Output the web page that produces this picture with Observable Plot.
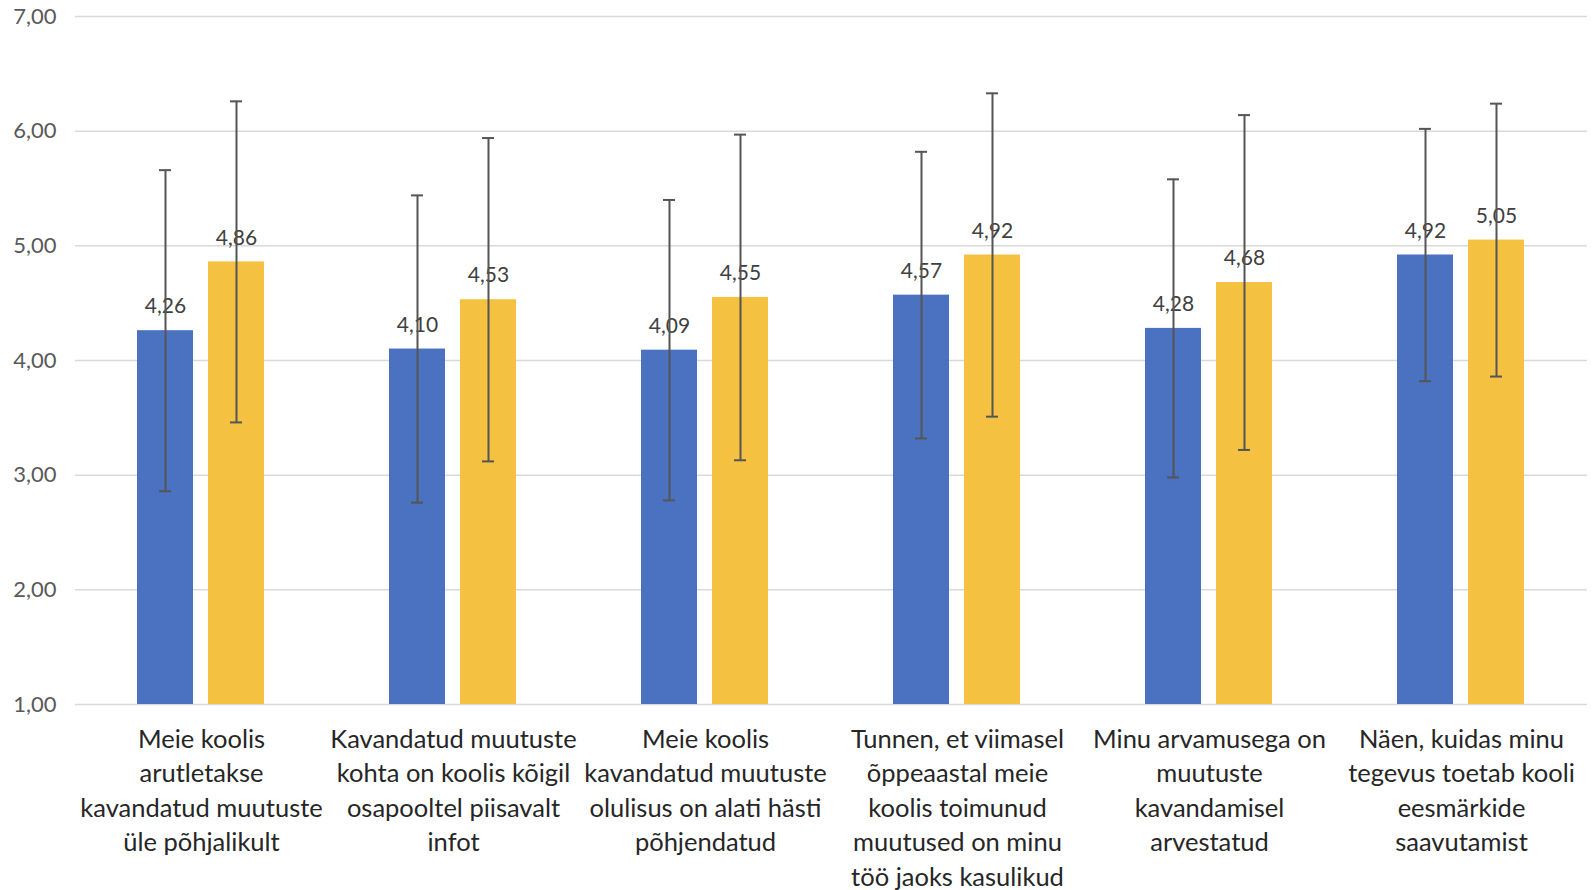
<!DOCTYPE html>
<html><head><meta charset="utf-8">
<script src="https://cdn.jsdelivr.net/npm/d3@7"></script>
<script src="https://cdn.jsdelivr.net/npm/@observablehq/plot@0.6"></script>
<style>body{margin:0;background:#fff;overflow:hidden}</style>
</head><body><div id="chart"></div>
<script>
const categories = [
  "Meie koolis\narutletakse\nkavandatud muutuste\nüle põhjalikult",
  "Kavandatud muutuste\nkohta on koolis kõigil\nosapooltel piisavalt\ninfot",
  "Meie koolis\nkavandatud muutuste\nolulisus on alati hästi\npõhjendatud",
  "Tunnen, et viimasel\nõppeaastal meie\nkoolis toimunud\nmuutused on minu\ntöö jaoks kasulikud",
  "Minu arvamusega on\nmuutuste\nkavandamisel\narvestatud",
  "Näen, kuidas minu\ntegevus toetab kooli\neesmärkide\nsaavutamist"
];
const series = ["Seeria 1", "Seeria 2"];
const meansBlue = [4.26, 4.10, 4.09, 4.57, 4.28, 4.92];
const meansYellow = [4.86, 4.53, 4.55, 4.92, 4.68, 5.05];
const sdBlue = [1.40, 1.34, 1.31, 1.25, 1.30, 1.10];
const sdYellow = [1.40, 1.41, 1.42, 1.41, 1.46, 1.19];
const yTicks = [1, 2, 3, 4, 5, 6, 7];
const colors = ["#4a72c0", "#f4c141"];

const data = categories.flatMap((c, i) => [
  {cat: c, series: series[0], mean: meansBlue[i], sd: sdBlue[i]},
  {cat: c, series: series[1], mean: meansYellow[i], sd: sdYellow[i]}
]);
const fmt = v => v.toFixed(2).replace(".", ",");
const errColor = "#555555";

const chart = Plot.plot({
  width: 1593, height: 890,
  marginTop: 16, marginBottom: 186, marginLeft: 75, marginRight: 6,
  style: {fontFamily: "Lato, sans-serif", background: "#fff"},
  fx: {domain: categories, padding: 0, label: null},
  x: {domain: series, paddingInner: 0.21, paddingOuter: 0.865, axis: null},
  y: {domain: [1, 7], label: null},
  color: {domain: series, range: colors},
  marks: [
    Plot.gridY(yTicks, {stroke: "#d9d9d9", strokeOpacity: 1, strokeWidth: 1.5}),
    Plot.axisY(yTicks, {tickSize: 0, tickPadding: 19, tickFormat: fmt, fontSize: 22, fill: "#595959", label: null}),
    Plot.barY(data, {fx: "cat", x: "series", y1: 1, y2: "mean", fill: "series"}),
    Plot.text(data, {fx: "cat", x: "series", y: "mean", text: d => fmt(d.mean), dy: -24, fontSize: 21, fill: "#404040"}),
    Plot.ruleX(data, {fx: "cat", x: "series", y1: d => d.mean - d.sd, y2: d => d.mean + d.sd, stroke: errColor, strokeWidth: 2}),
    Plot.tickY(data, {fx: "cat", x: "series", y: d => d.mean + d.sd, insetLeft: 22, insetRight: 22, stroke: errColor, strokeWidth: 2}),
    Plot.tickY(data, {fx: "cat", x: "series", y: d => d.mean - d.sd, insetLeft: 22, insetRight: 22, stroke: errColor, strokeWidth: 2}),
    Plot.axisFx({anchor: "bottom", tickSize: 0, tickPadding: 19, fontSize: 25.5, lineHeight: 1.35, fill: "#262626", label: null})
  ]
});
document.getElementById("chart").appendChild(chart);
</script>
</body></html>
